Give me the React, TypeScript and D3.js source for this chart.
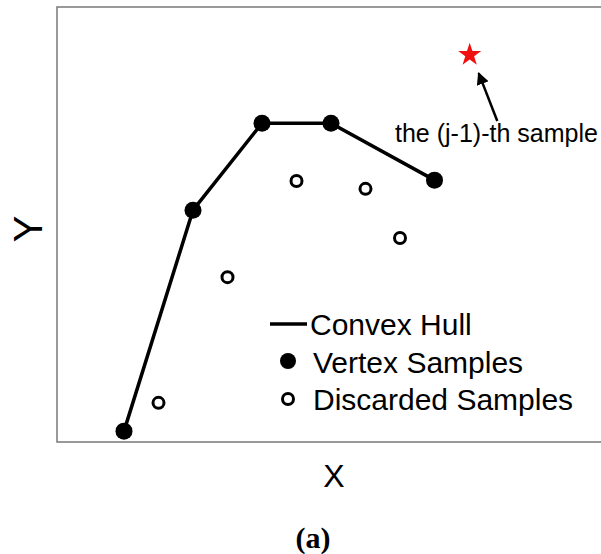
import React from "react";
import * as d3 from "d3";

const vertexX = [1, 2, 3, 4, 5.5];
const vertexY = [0.25, 5.33, 7.33, 7.33, 6.02];
const discardedX = [1.5, 2.5, 3.5, 4.5, 5];
const discardedY = [0.9, 3.79, 6.0, 5.82, 4.69];
const starPoint = [6.01, 8.9];
const legendLabels = ["Convex Hull", "Vertex Samples", "Discarded Samples"];
const annotationText = "the (j-1)-th sample";

const W = 601;
const H = 554;
const FONT = "'Liberation Sans', Arial, Helvetica, sans-serif";

export default function App() {
  const x = d3.scaleLinear().domain([0, 8]).range([55, 607]);
  const y = d3.scaleLinear().domain([0, 10]).range([442, 7]);

  const vertices = vertexX.map((v, i) => [v, vertexY[i]] as [number, number]);
  const discarded = discardedX.map((v, i) => [v, discardedY[i]] as [number, number]);

  const line = d3
    .line<[number, number]>()
    .x((d) => x(d[0]))
    .y((d) => y(d[1]));

  const star = d3.symbol().type(d3.symbolStar).size(165)();

  // arrow from annotation text to star
  const tail = [6.41, 7.38];
  const tip = [6.14, 8.48];

  return (
    <svg
      width={W}
      height={H}
      style={{ position: "absolute", left: 0, top: 0, background: "#fff" }}
    >
      <defs>
        <marker
          id="ah"
          viewBox="0 0 10 10"
          refX="9"
          refY="5"
          markerWidth="5"
          markerHeight="5"
          orient="auto"
        >
          <path d="M0,0 L10,5 L0,10 z" fill="#000" />
        </marker>
      </defs>
      {/* frame */}
      <rect
        x={57}
        y={7}
        width={600}
        height={435}
        fill="none"
        stroke="#808080"
        strokeWidth={1.6}
      />
      {/* hull */}
      <path d={line(vertices) || ""} fill="none" stroke="#000" strokeWidth={3.5} />
      {vertices.map((d, i) => (
        <circle key={"v" + i} cx={x(d[0])} cy={y(d[1])} r={8.5} fill="#000" />
      ))}
      {discarded.map((d, i) => (
        <circle
          key={"d" + i}
          cx={x(d[0])}
          cy={y(d[1])}
          r={5.5}
          fill="#fff"
          stroke="#000"
          strokeWidth={3}
        />
      ))}
      {/* star */}
      <path
        d={star || ""}
        transform={`translate(${x(starPoint[0])},${y(starPoint[1])})`}
        fill="#f01010"
      />
      {/* arrow */}
      <line
        x1={x(tail[0])}
        y1={y(tail[1])}
        x2={x(tip[0])}
        y2={y(tip[1])}
        stroke="#000"
        strokeWidth={2.5}
        markerEnd="url(#ah)"
      />
      <text x={395} y={142} fontFamily={FONT} fontSize={25} fill="#000">
        {annotationText}
      </text>
      {/* legend */}
      <line x1={270} x2={307} y1={324} y2={324} stroke="#000" strokeWidth={3.5} />
      <circle cx={288} cy={361} r={8} fill="#000" />
      <circle cx={288} cy={399} r={5.5} fill="#fff" stroke="#000" strokeWidth={3} />
      {legendLabels.map((t, i) => (
        <text
          key={t}
          x={i === 0 ? 310 : 313}
          y={335 + i * 37.5}
          fontFamily={FONT}
          fontSize={30}
          fill="#000"
        >
          {t}
        </text>
      ))}
      {/* axis labels */}
      <text
        x={334}
        y={487}
        textAnchor="middle"
        fontFamily={FONT}
        fontSize={32}
        fill="#000"
      >
        X
      </text>
      <text
        transform="translate(42,229) rotate(-90)"
        textAnchor="middle"
        fontFamily={FONT}
        fontSize={40}
        fill="#000"
      >
        Y
      </text>
      <text
        x={313}
        y={548}
        textAnchor="middle"
        fontFamily="'Liberation Serif', 'Times New Roman', serif"
        fontWeight="bold"
        fontSize={30}
        fill="#000"
      >
        (a)
      </text>
    </svg>
  );
}
